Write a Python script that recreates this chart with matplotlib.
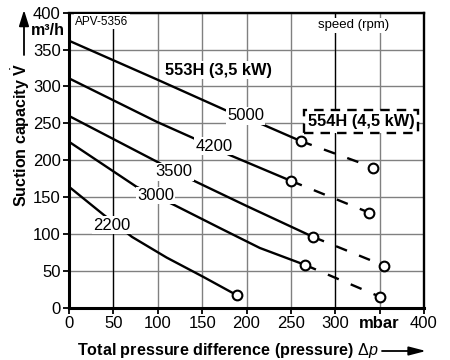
"""Suction capacity vs. total pressure difference for the 553H / 554H pumps."""
import matplotlib
matplotlib.use('Agg')
import matplotlib.pyplot as plt

plt.rcParams['font.family'] = ['Liberation Sans', 'DejaVu Sans']
plt.rcParams['mathtext.fontset'] = 'custom'
plt.rcParams['mathtext.rm'] = 'Liberation Sans'
plt.rcParams['mathtext.it'] = 'Liberation Sans:italic'
plt.rcParams['mathtext.bf'] = 'Liberation Sans:bold'

# speed curves of the 553H, pressure in mbar, capacity in m3/h
speeds = ['5000', '4200', '3500', '3000', '2200']
p_5000 = [0, 100, 176, 219, 261]
q_5000 = [362, 309, 268, 248, 226]
p_4200 = [0, 99, 140, 181, 250]
q_4200 = [311, 252, 230, 207, 172]
p_3500 = [0, 99, 134, 200, 275]
q_3500 = [260, 198, 176, 138, 96]
p_3000 = [0, 76, 119, 170, 215, 266]
q_3000 = [225, 164, 139, 108, 81, 58]
p_2200 = [0, 39, 71, 110, 151, 189]
q_2200 = [164, 126, 96, 68, 42, 17]

# end points of the 554H extension (dashed), same order as speeds
ext_p = [343, 338, 355, 350, None]
ext_q = [190, 129, 57, 15, None]

# where the speed labels sit on their curves
label_p = [199, 163.5, 118, 97.5, 48]
label_q = [260, 219, 184, 152, 112]

xticks = [0, 50, 100, 150, 200, 250, 300, 350, 400]
xticklabels = ['0', '50', '100', '150', '200', '250', '300', 'mbar', '400']
yticks = [0, 50, 100, 150, 200, 250, 300, 350, 400]

W, H = 450, 360


def _fx(px):
    return px / W


def _fy(py):
    return 1 - py / H


def _plot_curves(ax):
    curves = [(p_5000, q_5000), (p_4200, q_4200), (p_3500, q_3500),
              (p_3000, q_3000), (p_2200, q_2200)]
    for i, (ps, qs) in enumerate(curves):
        ax.plot(ps, qs, color='black', lw=1.7, zorder=3,
                solid_joinstyle='round')
        if ext_p[i] is not None:
            ax.plot([ps[-1], ext_p[i]], [qs[-1], ext_q[i]], color='black',
                    lw=1.7, dashes=(5, 5.5), zorder=3)
            ax.plot(ext_p[i], ext_q[i], 'o', ms=7, mfc='white', mec='black',
                    mew=1.5, zorder=4)
        ax.plot(ps[-1], qs[-1], 'o', ms=7, mfc='white', mec='black',
                mew=1.5, zorder=4)
        ax.text(label_p[i], label_q[i], speeds[i], fontsize=12, ha='center',
                va='center', zorder=5,
                bbox=dict(facecolor='white', edgecolor='none', pad=1))


def _annotate(ax, fig):
    white = dict(facecolor='white', edgecolor='none', pad=1)
    ax.text(7, 388, 'APV-5356', fontsize=8.5, ha='left', va='center',
            zorder=5, bbox=white)
    ax.text(321, 383, 'speed (rpm)', fontsize=9.5, ha='center', va='center',
            zorder=5, bbox=white)
    ax.text(108, 322, '553H (3,5 kW)', fontsize=11.8, fontweight='bold',
            ha='left', va='center', zorder=5, bbox=white)
    ax.text(329, 252, '554H (4,5 kW)', fontsize=11.8, fontweight='bold',
            ha='center', va='center', zorder=5,
            bbox=dict(boxstyle='square,pad=0.25', facecolor='white',
                      edgecolor='black', lw=1.7, linestyle=(0, (4, 3))))
    ax.text(-5, 376, 'm³/h', fontsize=11.5, fontweight='bold', ha='right',
            va='center', clip_on=False)

    fig.text(_fx(21), _fy(135), r'Suction capacity $\dot{\mathbf{V}}$',
             rotation=90, fontsize=11.5, fontweight='bold', ha='center',
             va='center')
    fig.text(_fx(77), _fy(351),
             r'Total pressure difference (pressure) $\Delta\mathit{p}$',
             fontsize=11.6, fontweight='bold', ha='left', va='center')

    ax.annotate('', xy=(_fx(24), _fy(10)), xytext=(_fx(24), _fy(55)),
                xycoords='figure fraction', textcoords='figure fraction',
                arrowprops=dict(arrowstyle='-|>,head_length=0.8,head_width=0.25',
                                color='black', lw=1.3, mutation_scale=12,
                                shrinkA=0, shrinkB=0))
    ax.annotate('', xy=(_fx(426), _fy(351)), xytext=(_fx(382), _fy(351)),
                xycoords='figure fraction', textcoords='figure fraction',
                arrowprops=dict(arrowstyle='-|>,head_length=0.85,head_width=0.22',
                                color='black', lw=1.3, mutation_scale=12,
                                shrinkA=0, shrinkB=0))


def main():
    fig = plt.figure(figsize=(4.5, 3.6), dpi=100)
    ax = fig.add_axes([_fx(69), _fy(307.7), 355 / W, 295 / H])
    ax.set(xlim=(0, 400), ylim=(0, 400))

    ax.set_xticks(xticks)
    ax.set_xticklabels(xticklabels, fontsize=12)
    ax.get_xticklabels()[7].set_fontweight('bold')
    ax.set_yticks(yticks)
    ax.set_yticklabels([str(v) for v in yticks], fontsize=12)
    ax.tick_params(direction='out', length=4, width=1.3, pad=2)

    ax.grid(color='#808080', lw=1.0)
    ax.set_axisbelow(True)
    for xv in (50, 300):
        ax.axvline(xv, color='black', lw=0.9, zorder=1)

    for side in ('left', 'bottom'):
        ax.spines[side].set_linewidth(2.2)
    for side in ('top', 'right'):
        ax.spines[side].set_linewidth(1.7)

    _plot_curves(ax)
    _annotate(ax, fig)

    fig.savefig('out.png', dpi=100)


main()
